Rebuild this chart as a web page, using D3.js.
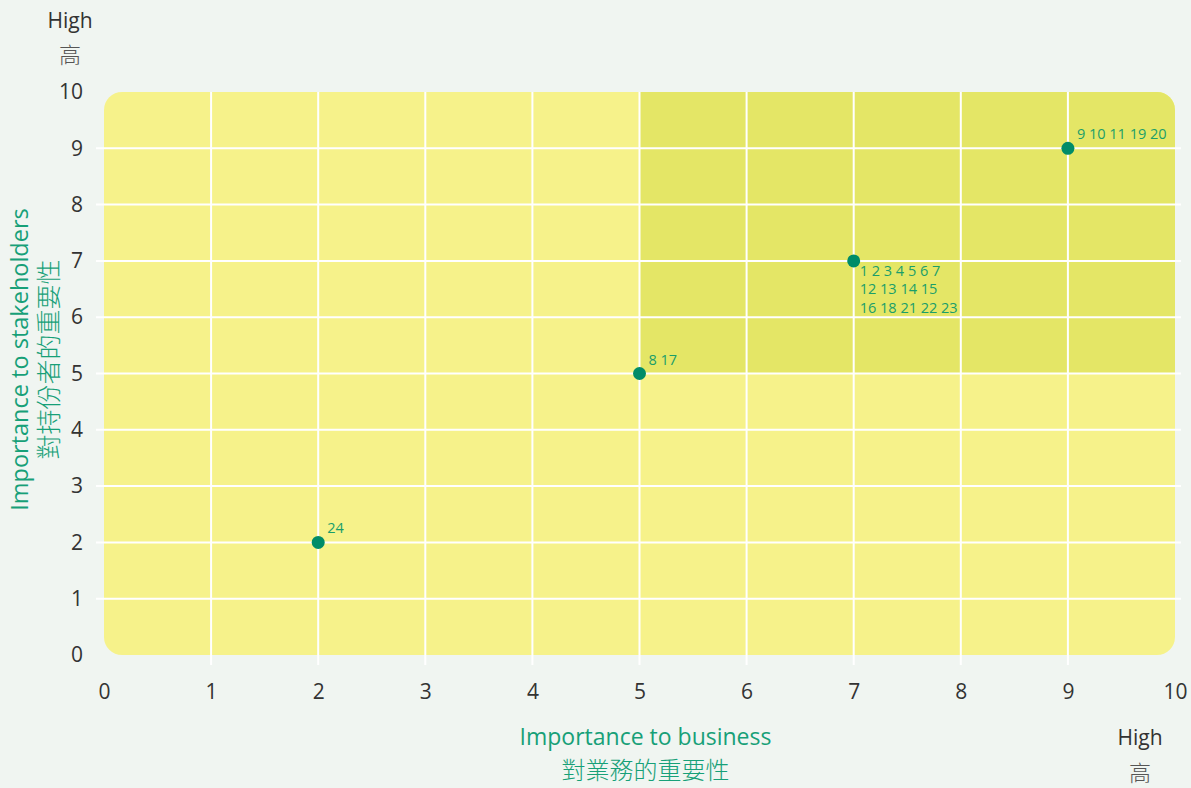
<!DOCTYPE html>
<html>
<head>
<meta charset="utf-8">
<script src="https://cdn.jsdelivr.net/npm/d3@7"></script>
<style>
  body { margin: 0; background: #f0f5f1; }
  svg text { font-family: "Open Sans", "Noto Sans", "Noto Sans CJK TC", sans-serif; }
</style>
</head>
<body>
<div id="chart-area"></div>
<script>
// Data
var xTicks = [0, 1, 2, 3, 4, 5, 6, 7, 8, 9, 10];
var yTicks = [0, 1, 2, 3, 4, 5, 6, 7, 8, 9, 10];
var pointX = [2, 5, 7, 9];
var pointY = [2, 5, 7, 9];
var pointLabels = [["24"], ["8 17"], ["1 2 3 4 5 6 7", "12 13 14 15", "16 18 21 22 23"], ["9 10 11 19 20"]];
var labelPos = ["above", "above", "below", "above"];

var margin = { top: 92, right: 16, bottom: 133, left: 104 },
    width = 1191 - margin.left - margin.right,
    height = 788 - margin.top - margin.bottom;

var x = d3.scaleLinear().domain([0, 10]).range([0, width]);
var y = d3.scaleLinear().domain([0, 10]).range([height, 0]);

var svg = d3.select("#chart-area").append("svg")
    .attr("width", 1191)
    .attr("height", 788)
    .append("g")
    .attr("transform", "translate(" + margin.left + "," + margin.top + ")");

// background panel
svg.append("rect")
    .attr("x", x(0)).attr("y", y(10))
    .attr("width", x(10) - x(0)).attr("height", y(0) - y(10))
    .attr("rx", 18).attr("ry", 18)
    .attr("fill", "#f6f28a");

// high / high quadrant
svg.append("path")
    .attr("d", "M" + x(5) + "," + y(10) + "H" + (x(10) - 18) +
        "A18,18 0 0 1 " + x(10) + "," + (y(10) + 18) + "V" + y(5) + "H" + x(5) + "Z")
    .attr("fill", "#e4e666");

// grid
svg.selectAll(".vgrid").data(xTicks.slice(1, -1)).enter().append("line")
    .attr("class", "vgrid")
    .attr("x1", d => x(d)).attr("x2", d => x(d))
    .attr("y1", 0).attr("y2", height + 10)
    .attr("stroke", "#fff").attr("stroke-width", 2);
svg.selectAll(".hgrid").data(yTicks.slice(1, -1)).enter().append("line")
    .attr("class", "hgrid")
    .attr("y1", d => y(d)).attr("y2", d => y(d))
    .attr("x1", -8).attr("x2", width + 6)
    .attr("stroke", "#fff").attr("stroke-width", 2);

// axes
var xAxis = d3.axisBottom(x).tickValues(xTicks).tickSize(0).tickPadding(29);
var yAxis = d3.axisLeft(y).tickValues(yTicks).tickSize(0).tickPadding(21);

var gx = svg.append("g").attr("transform", "translate(0," + height + ")").call(xAxis);
var gy = svg.append("g").call(yAxis);
[gx, gy].forEach(function (g) {
    g.select(".domain").remove();
    g.selectAll("text")
        .style("font-size", "21px")
        .attr("fill", "#333")
        .style("font-family", "'Open Sans', sans-serif");
});

// points
var pts = pointX.map((d, i) => ({ x: d, y: pointY[i], lab: pointLabels[i], pos: labelPos[i] }));

svg.selectAll(".dot").data(pts).enter().append("circle")
    .attr("cx", d => x(d.x)).attr("cy", d => y(d.y))
    .attr("r", 6.5)
    .attr("fill", "#008c68");

var lab = svg.selectAll(".lab").data(pts).enter().append("text")
    .attr("fill", "#1a9e6a")
    .style("font-size", "14.5px")
    .attr("x", d => x(d.x) + (d.pos == "below" ? 6 : 9))
    .attr("y", d => y(d.y) + (d.pos == "below" ? 15 : -9));
lab.selectAll("tspan").data(d => d.lab.map(t => ({ t: t, px: x(d.x) + 6 }))).enter().append("tspan")
    .attr("x", (d, i, n) => i == 0 ? null : d.px)
    .attr("dy", (d, i) => i == 0 ? 0 : 18.5)
    .text(d => d.t);

// axis titles
var green = "#17a078";
svg.append("text")
    .attr("transform", "translate(-76," + (height / 2 - 14) + ") rotate(-90)")
    .attr("text-anchor", "middle")
    .attr("fill", green).style("font-size", "23.5px")
    .text("Importance to stakeholders");
svg.append("text")
    .attr("transform", "translate(-46," + (height / 2 - 14) + ") rotate(-90)")
    .attr("text-anchor", "middle")
    .attr("fill", green).style("font-size", "25px").style("font-weight", 300)
    .style("font-family", "'Noto Sans CJK TC', sans-serif")
    .text("對持份者的重要性");

svg.append("text")
    .attr("x", x(5) + 6).attr("y", height + 90)
    .attr("text-anchor", "middle")
    .attr("fill", green).style("font-size", "23px")
    .text("Importance to business");
svg.append("text")
    .attr("x", x(5) + 6).attr("y", height + 124)
    .attr("text-anchor", "middle")
    .attr("fill", green).style("font-size", "24px").style("font-weight", 300)
    .style("font-family", "'Noto Sans CJK TC', sans-serif")
    .text("對業務的重要性");

// High markers
svg.append("text").attr("x", -34).attr("y", -64).attr("text-anchor", "middle")
    .attr("fill", "#333").style("font-size", "21px").text("High");
svg.append("text").attr("x", -34).attr("y", -29).attr("text-anchor", "middle")
    .attr("fill", "#555").style("font-size", "22px").style("font-weight", 300)
    .style("font-family", "'Noto Sans CJK TC', sans-serif").text("高");
svg.append("text").attr("x", x(10) - 35).attr("y", height + 90).attr("text-anchor", "middle")
    .attr("fill", "#333").style("font-size", "21px").text("High");
svg.append("text").attr("x", x(10) - 35).attr("y", height + 126).attr("text-anchor", "middle")
    .attr("fill", "#555").style("font-size", "22px").style("font-weight", 300)
    .style("font-family", "'Noto Sans CJK TC', sans-serif").text("高");
</script>
</body>
</html>
